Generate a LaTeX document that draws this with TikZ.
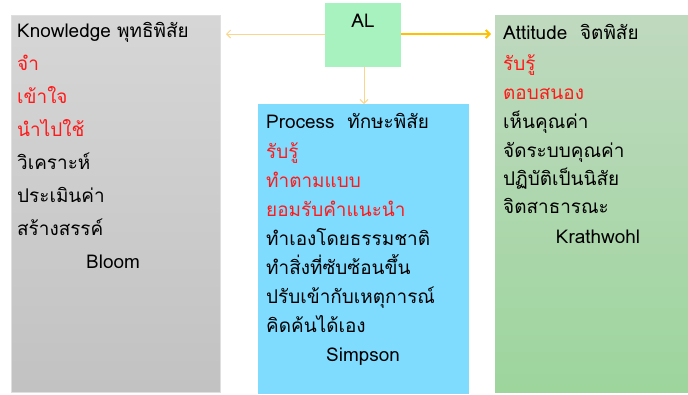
\documentclass[tikz,border=0pt]{standalone}
\usepackage{fontspec}
\usetikzlibrary{arrows.meta}
\setmainfont[Script=Thai]{Loma}
\begin{document}
\begin{tikzpicture}[x=1bp,y=-1bp,
  txt/.style={anchor=base west,inner sep=0pt,font=\fontsize{19}{21}\selectfont},
  red/.style={text=thred},
  lightarrow/.style={draw=arrlight,line width=0.9bp,-{Straight Barb[length=4bp,width=8bp]}},
  ]
\definecolor{thred}{HTML}{FF1A1A}
\definecolor{arrlight}{HTML}{F9D68A}
\definecolor{arrdark}{HTML}{FFC000}
\useasboundingbox (0,0) rectangle (688,394);
% boxes
\path[top color=gray!32,bottom color=gray!48,draw=gray!25] (11,15) rectangle (220,392);
\path[top color=green!25!gray!40!white,bottom color=green!40!gray!55!white] (495,15) rectangle (688,392);
\fill[fill={rgb,255:red,128;green,220;blue,255}] (258,104) rectangle (469,394);
\node[draw=none,fill={rgb,255:red,168;green,242;blue,192},minimum width=76bp,minimum height=64bp,inner sep=0pt] (al) at (363,35) {};
\node[txt,anchor=base] (altext) at (363,27) {AL};
% connectors
\coordinate (lk) at (226,34);
\coordinate (ra) at (491,34);
\coordinate (dp) at (364,104);
\draw[lightarrow] (al.west |- lk) -- (lk);
\draw[draw=arrdark,line width=1.8bp,-{Straight Barb[length=4bp,width=8bp]}] (al.east |- ra) -- (ra);
\draw[lightarrow] (al.south -| dp) -- (dp);
% knowledge
\node[txt] (k0) at (17,37) {Knowledge พุทธิพิสัย};
\node[txt,red] (k1) at (17,70) {จำ};
\node[txt,red] (k2) at (17,103) {เข้าใจ};
\node[txt,red] (k3) at (17,136) {นำไปใช้};
\node[txt] (k4) at (17,169) {วิเคราะห์};
\node[txt] (k5) at (17,202) {ประเมินค่า};
\node[txt] (k6) at (17,235) {สร้างสรรค์};
\node[txt,anchor=base] (k7) at (113,268) {Bloom};
% process
\node[txt] (p0) at (266,128) {Process\ \ ทักษะพิสัย};
\node[txt,red] (p1) at (266,158) {รับรู้};
\node[txt,red] (p2) at (266,187) {ทำตามแบบ};
\node[txt,red] (p3) at (266,216) {ยอมรับคำแนะนำ};
\node[txt] (p4) at (266,245) {ทำเองโดยธรรมชาติ};
\node[txt] (p5) at (266,274) {ทำสิ่งที่ซับซ้อนขึ้น};
\node[txt] (p6) at (266,303) {ปรับเข้ากับเหตุการณ์};
\node[txt] (p7) at (266,332) {คิดค้นได้เอง};
\node[txt,anchor=base] (p8) at (363,361) {Simpson};
% attitude
\node[txt] (a0) at (503,39) {Attitude\ \ จิตพิสัย};
\node[txt,red] (a1) at (503,70) {รับรู้};
\node[txt,red] (a2) at (503,99) {ตอบสนอง};
\node[txt] (a3) at (503,128) {เห็นคุณค่า};
\node[txt] (a4) at (503,157) {จัดระบบคุณค่า};
\node[txt] (a5) at (503,185) {ปฏิบัติเป็นนิสัย};
\node[txt] (a6) at (503,213) {จิตสาธารณะ};
\node[txt,anchor=base] (a7) at (598,243) {Krathwohl};
\end{tikzpicture}
\end{document}
